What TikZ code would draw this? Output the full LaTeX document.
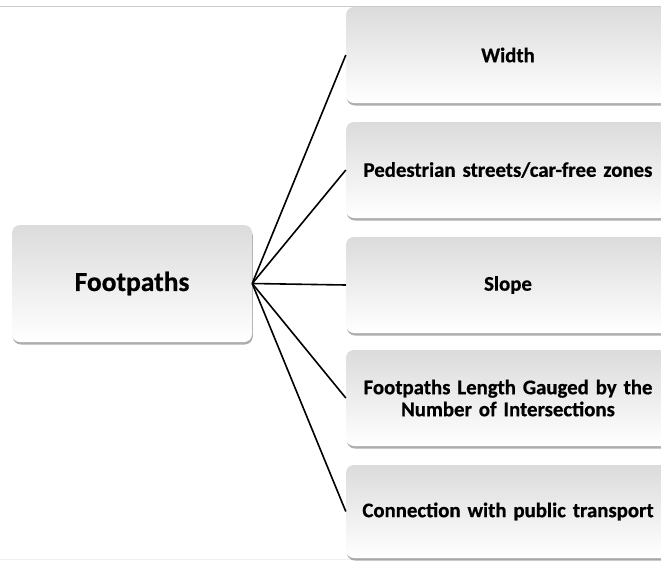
\documentclass[tikz,border=0pt]{standalone}
\usepackage{fontspec}
\setmainfont[BoldFeatures={FakeBold=0.6}]{Carlito}
\usetikzlibrary{shadows}
\begin{document}
\begin{tikzpicture}[x=1pt,y=-1pt,
  box/.style={rectangle, rounded corners=8pt, draw=none,
    top color=black!14, bottom color=white,
    drop shadow={shadow xshift=0.8pt, shadow yshift=-2.5pt, opacity=0.45, fill=black!70},
    inner sep=0pt, align=center, font=\bfseries\fontsize{20.8}{22}\selectfont},
  rbox/.style={box, minimum width=324pt, minimum height=96pt, text width=310pt},
  conn/.style={draw=black, line width=1.6pt}]
\useasboundingbox (0,0) rectangle (661,560);
\clip (0,0) rectangle (661,560);
\draw[black!20, line width=1pt] (0,6) -- (661,6);
\draw[black!6, line width=1pt] (0,559) -- (661,559);
\node[box, minimum width=240pt, minimum height=117pt, font=\bfseries\fontsize{27.5}{30}\selectfont] (root) at (132,283.5) {Footpaths};
\node[rbox] (b1) at (508,55) {Width};
\node[rbox] (b2) at (508,170) {Pedestrian streets/car-free zones};
\node[rbox] (b3) at (508,285) {Slope};
\node[rbox] (b4) at (508,398) {Footpaths Length Gauged by the\\Number of Intersections};
\node[rbox, minimum height=93pt] (b5) at (508,511.5) {Connection with public transport};
\foreach \b in {b1,b2,b3,b4,b5}
  \draw[conn] (root.east) -- (\b.west);
\end{tikzpicture}
\end{document}
